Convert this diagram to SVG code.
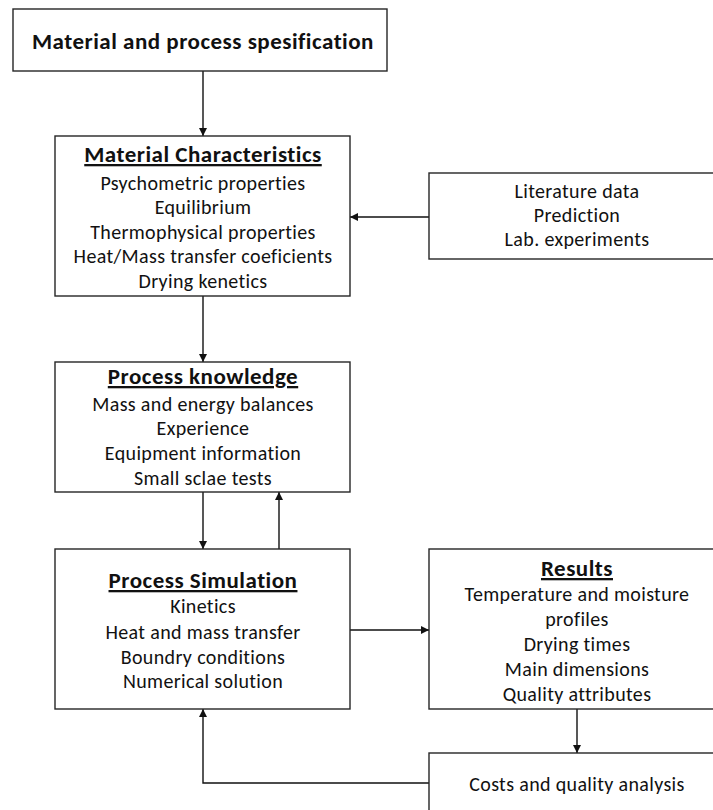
<svg xmlns="http://www.w3.org/2000/svg" width="713" height="810" viewBox="0 0 713 810">
<style>
.box{fill:#fff;stroke:#262626;stroke-width:1.4}
.t{font-family:Carlito,Calibri,Lato,"Open Sans",sans-serif;font-size:20px;letter-spacing:0.35px;fill:#111;text-anchor:middle}
.h{font-weight:bold;font-size:23px;letter-spacing:0.5px;text-decoration:underline}
.c{fill:none;stroke:#111;stroke-width:1.4}
</style>
<defs>
<marker id="ah" viewBox="0 0 10 10" refX="10" refY="5" markerWidth="10" markerHeight="8" markerUnits="userSpaceOnUse" orient="auto">
<path d="M0,0 L10,5 L0,10 z" fill="#111"/>
</marker>
</defs>
<rect width="713" height="810" fill="#fff"/>
<g id="connectors">
<path class="c" d="M203,71 V136" marker-end="url(#ah)"/>
<path class="c" d="M429,217 H350" marker-end="url(#ah)"/>
<path class="c" d="M203,296 V362" marker-end="url(#ah)"/>
<path class="c" d="M203,492 V549" marker-end="url(#ah)"/>
<path class="c" d="M279,549 V492" marker-end="url(#ah)"/>
<path class="c" d="M350,630 H429" marker-end="url(#ah)"/>
<path class="c" d="M577,709 V753" marker-end="url(#ah)"/>
<path class="c" d="M429,783 H203 V709" marker-end="url(#ah)"/>
</g>
<g id="spec">
<rect class="box" x="13" y="9" width="374" height="62"/>
<text class="t" x="203" y="49" style="font-weight:bold;font-size:23px;letter-spacing:0.5px">Material and process spesification</text>
</g>
<g id="material">
<rect class="box" x="55" y="136" width="295" height="160"/>
<text class="t h" x="203" y="162">Material Characteristics</text>
<text class="t" x="203" y="190">Psychometric properties</text>
<text class="t" x="203" y="214">Equilibrium</text>
<text class="t" x="203" y="239">Thermophysical properties</text>
<text class="t" x="203" y="263">Heat/Mass transfer coeficients</text>
<text class="t" x="203" y="288">Drying kenetics</text>
</g>
<g id="sources">
<rect class="box" x="429" y="173" width="300" height="86"/>
<text class="t" x="577" y="198">Literature data</text>
<text class="t" x="577" y="222">Prediction</text>
<text class="t" x="577" y="246">Lab. experiments</text>
</g>
<g id="knowledge">
<rect class="box" x="55" y="362" width="295" height="130"/>
<text class="t h" x="203" y="384">Process knowledge</text>
<text class="t" x="203" y="411">Mass and energy balances</text>
<text class="t" x="203" y="435">Experience</text>
<text class="t" x="203" y="460">Equipment information</text>
<text class="t" x="203" y="485">Small sclae tests</text>
</g>
<g id="simulation">
<rect class="box" x="55" y="549" width="295" height="160"/>
<text class="t h" x="203" y="588">Process Simulation</text>
<text class="t" x="203" y="613">Kinetics</text>
<text class="t" x="203" y="639">Heat and mass transfer</text>
<text class="t" x="203" y="664">Boundry conditions</text>
<text class="t" x="203" y="688">Numerical solution</text>
</g>
<g id="results">
<rect class="box" x="429" y="549" width="300" height="160"/>
<text class="t h" x="577" y="576">Results</text>
<text class="t" x="577" y="601">Temperature and moisture</text>
<text class="t" x="577" y="626">profiles</text>
<text class="t" x="577" y="651">Drying times</text>
<text class="t" x="577" y="676">Main dimensions</text>
<text class="t" x="577" y="701">Quality attributes</text>
</g>
<g id="costs">
<rect class="box" x="429" y="753" width="300" height="70"/>
<text class="t" x="577" y="791">Costs and quality analysis</text>
</g>
</svg>
